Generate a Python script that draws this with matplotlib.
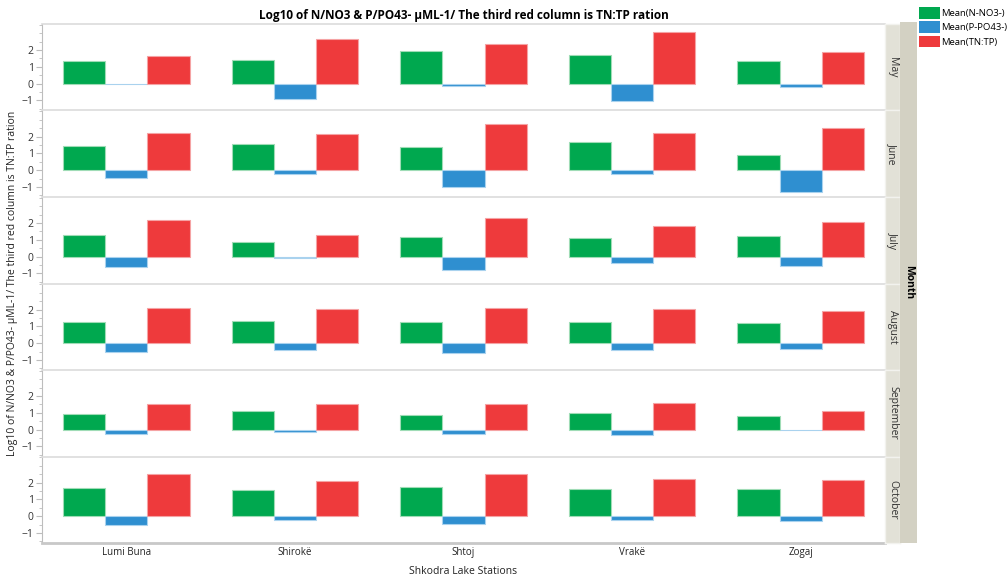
import numpy as np
import matplotlib.pyplot as plt
from matplotlib.patches import Patch

stations = ["Lumi Buna", "Shirokë", "Shtoj", "Vrakë", "Zogaj"]
months = ["May", "June", "July", "August", "September", "October"]

# log10 means per month (rows) and station (columns)
n_no3 = [
    [1.35, 1.41, 1.93, 1.73, 1.35],
    [1.46, 1.56, 1.40, 1.66, 0.92],
    [1.27, 0.90, 1.16, 1.12, 1.24],
    [1.24, 1.34, 1.24, 1.24, 1.18],
    [0.94, 1.09, 0.88, 0.97, 0.82],
    [1.70, 1.58, 1.73, 1.64, 1.60],
]
p_po4 = [
    [-0.02, -0.91, -0.15, -1.05, -0.19],
    [-0.46, -0.26, -1.00, -0.24, -1.28],
    [-0.61, -0.08, -0.82, -0.37, -0.53],
    [-0.52, -0.43, -0.58, -0.41, -0.37],
    [-0.25, -0.12, -0.25, -0.31, 0.00],
    [-0.55, -0.21, -0.49, -0.21, -0.27],
]
tn_tp = [
    [1.67, 2.65, 2.37, 3.07, 1.89],
    [2.20, 2.14, 2.74, 2.20, 2.53],
    [2.18, 1.27, 2.27, 1.82, 2.08],
    [2.12, 2.06, 2.12, 2.02, 1.90],
    [1.50, 1.50, 1.50, 1.60, 1.13],
    [2.48, 2.10, 2.53, 2.22, 2.16],
]

series = [
    ("Mean(N-NO3-)", n_no3, "#00a84f", "#9fdcb6"),
    ("Mean(P-PO43-)", p_po4, "#2f8fd0", "#a9d2ee"),
    ("Mean(TN:TP)", tn_tp, "#ee3a3c", "#f5a3a4"),
]

title = "Log10 of N/NO3 & P/PO43- µML-1/ The third red column is TN:TP ration"

W, H = 1008, 577
plt.rcParams['font.family'] = ['Open Sans', 'DejaVu Sans']
fig = plt.figure(figsize=(W / 100, H / 100), dpi=100)

left, right = 42, 885
top, bottom = 24, 543
ph = (bottom - top) / len(months)
x = np.arange(len(stations))
bw = 0.25
grey = "#bdbdbd"

for i, month in enumerate(months):
    y0 = top + i * ph
    ax = fig.add_axes([left / W, 1 - (y0 + ph) / H, (right - left) / W, ph / H])
    for k, (name, vals, col, edge) in enumerate(series):
        ax.bar(x + (k - 1) * bw, vals[i], width=bw, color=col,
               edgecolor=edge, linewidth=0.8)
    ax.set_xlim(-0.5, len(stations) - 0.5)
    ax.set_ylim(-1.6, 3.55)
    ax.set_yticks([-1, 0, 1, 2])
    ax.set_yticks(np.arange(-1.5, 3.6, 0.5), minor=True)
    ax.tick_params(axis='y', which='major', length=4, color=grey,
                   labelsize=7.5, labelcolor="#333333", pad=2)
    ax.tick_params(axis='y', which='minor', length=2.5, color=grey)
    for s in ["right", "bottom"]:
        ax.spines[s].set_visible(False)
    ax.spines["left"].set_color(grey)
    ax.spines["top"].set_color("#dcdcdc")
    ax.spines["top"].set_linewidth(1.2)
    if i == len(months) - 1:
        ax.spines["bottom"].set_visible(True)
        ax.spines["bottom"].set_color("#c8c8c8")
        ax.spines["bottom"].set_linewidth(2)
        ax.set_xticks(x)
        ax.set_xticklabels(stations, fontsize=7, color="#222222")
        ax.tick_params(axis='x', length=0, pad=3)
    else:
        ax.set_xticks([])

    # month strip on the right
    sax = fig.add_axes([right / W, 1 - (y0 + ph) / H, 15 / W, ph / H])
    sax.set_facecolor("#e2e1d7")
    sax.set_xticks([])
    sax.set_yticks([])
    for s in sax.spines.values():
        s.set_color("#f2f2ee")
        s.set_linewidth(1)
    sax.text(0.5, 0.5, month, rotation=-90, ha='center', va='center',
             fontsize=7.5, color="#333333", transform=sax.transAxes)

# outer strip with the facet variable name
oax = fig.add_axes([900 / W, 1 - bottom / H, 17 / W, (bottom - top + 2) / H])
oax.set_facecolor("#d3d1c3")
oax.set_xticks([])
oax.set_yticks([])
for s in oax.spines.values():
    s.set_visible(False)
oax.text(0.5, 0.5, "Month", rotation=-90, ha='center', va='center',
         fontsize=7.5, fontweight='bold', transform=oax.transAxes)

fig.text((left + right) / 2 / W, 1 - 15 / H, title, ha='center', va='center',
         fontsize=8.5, fontweight='bold')
fig.text(13 / W, 1 - (top + bottom) / 2 / H, title, rotation=90,
         ha='center', va='center', fontsize=7.5, color="#222222")
fig.text((left + right) / 2 / W, 1 - 571 / H, "Shkodra Lake Stations",
         ha='center', va='center', fontsize=7.5, color="#222222")

handles = [Patch(facecolor=c, edgecolor='none') for _, _, c, _ in series]
fig.legend(handles, [s[0] for s in series], loc='upper left',
           bbox_to_anchor=(919 / W, 1 - 7 / H), frameon=False, fontsize=6.8,
           handlelength=2.2, handleheight=1.5, handletextpad=0.12,
           labelspacing=0.3, borderaxespad=0, borderpad=0)

plt.savefig("out.png", dpi=100)
